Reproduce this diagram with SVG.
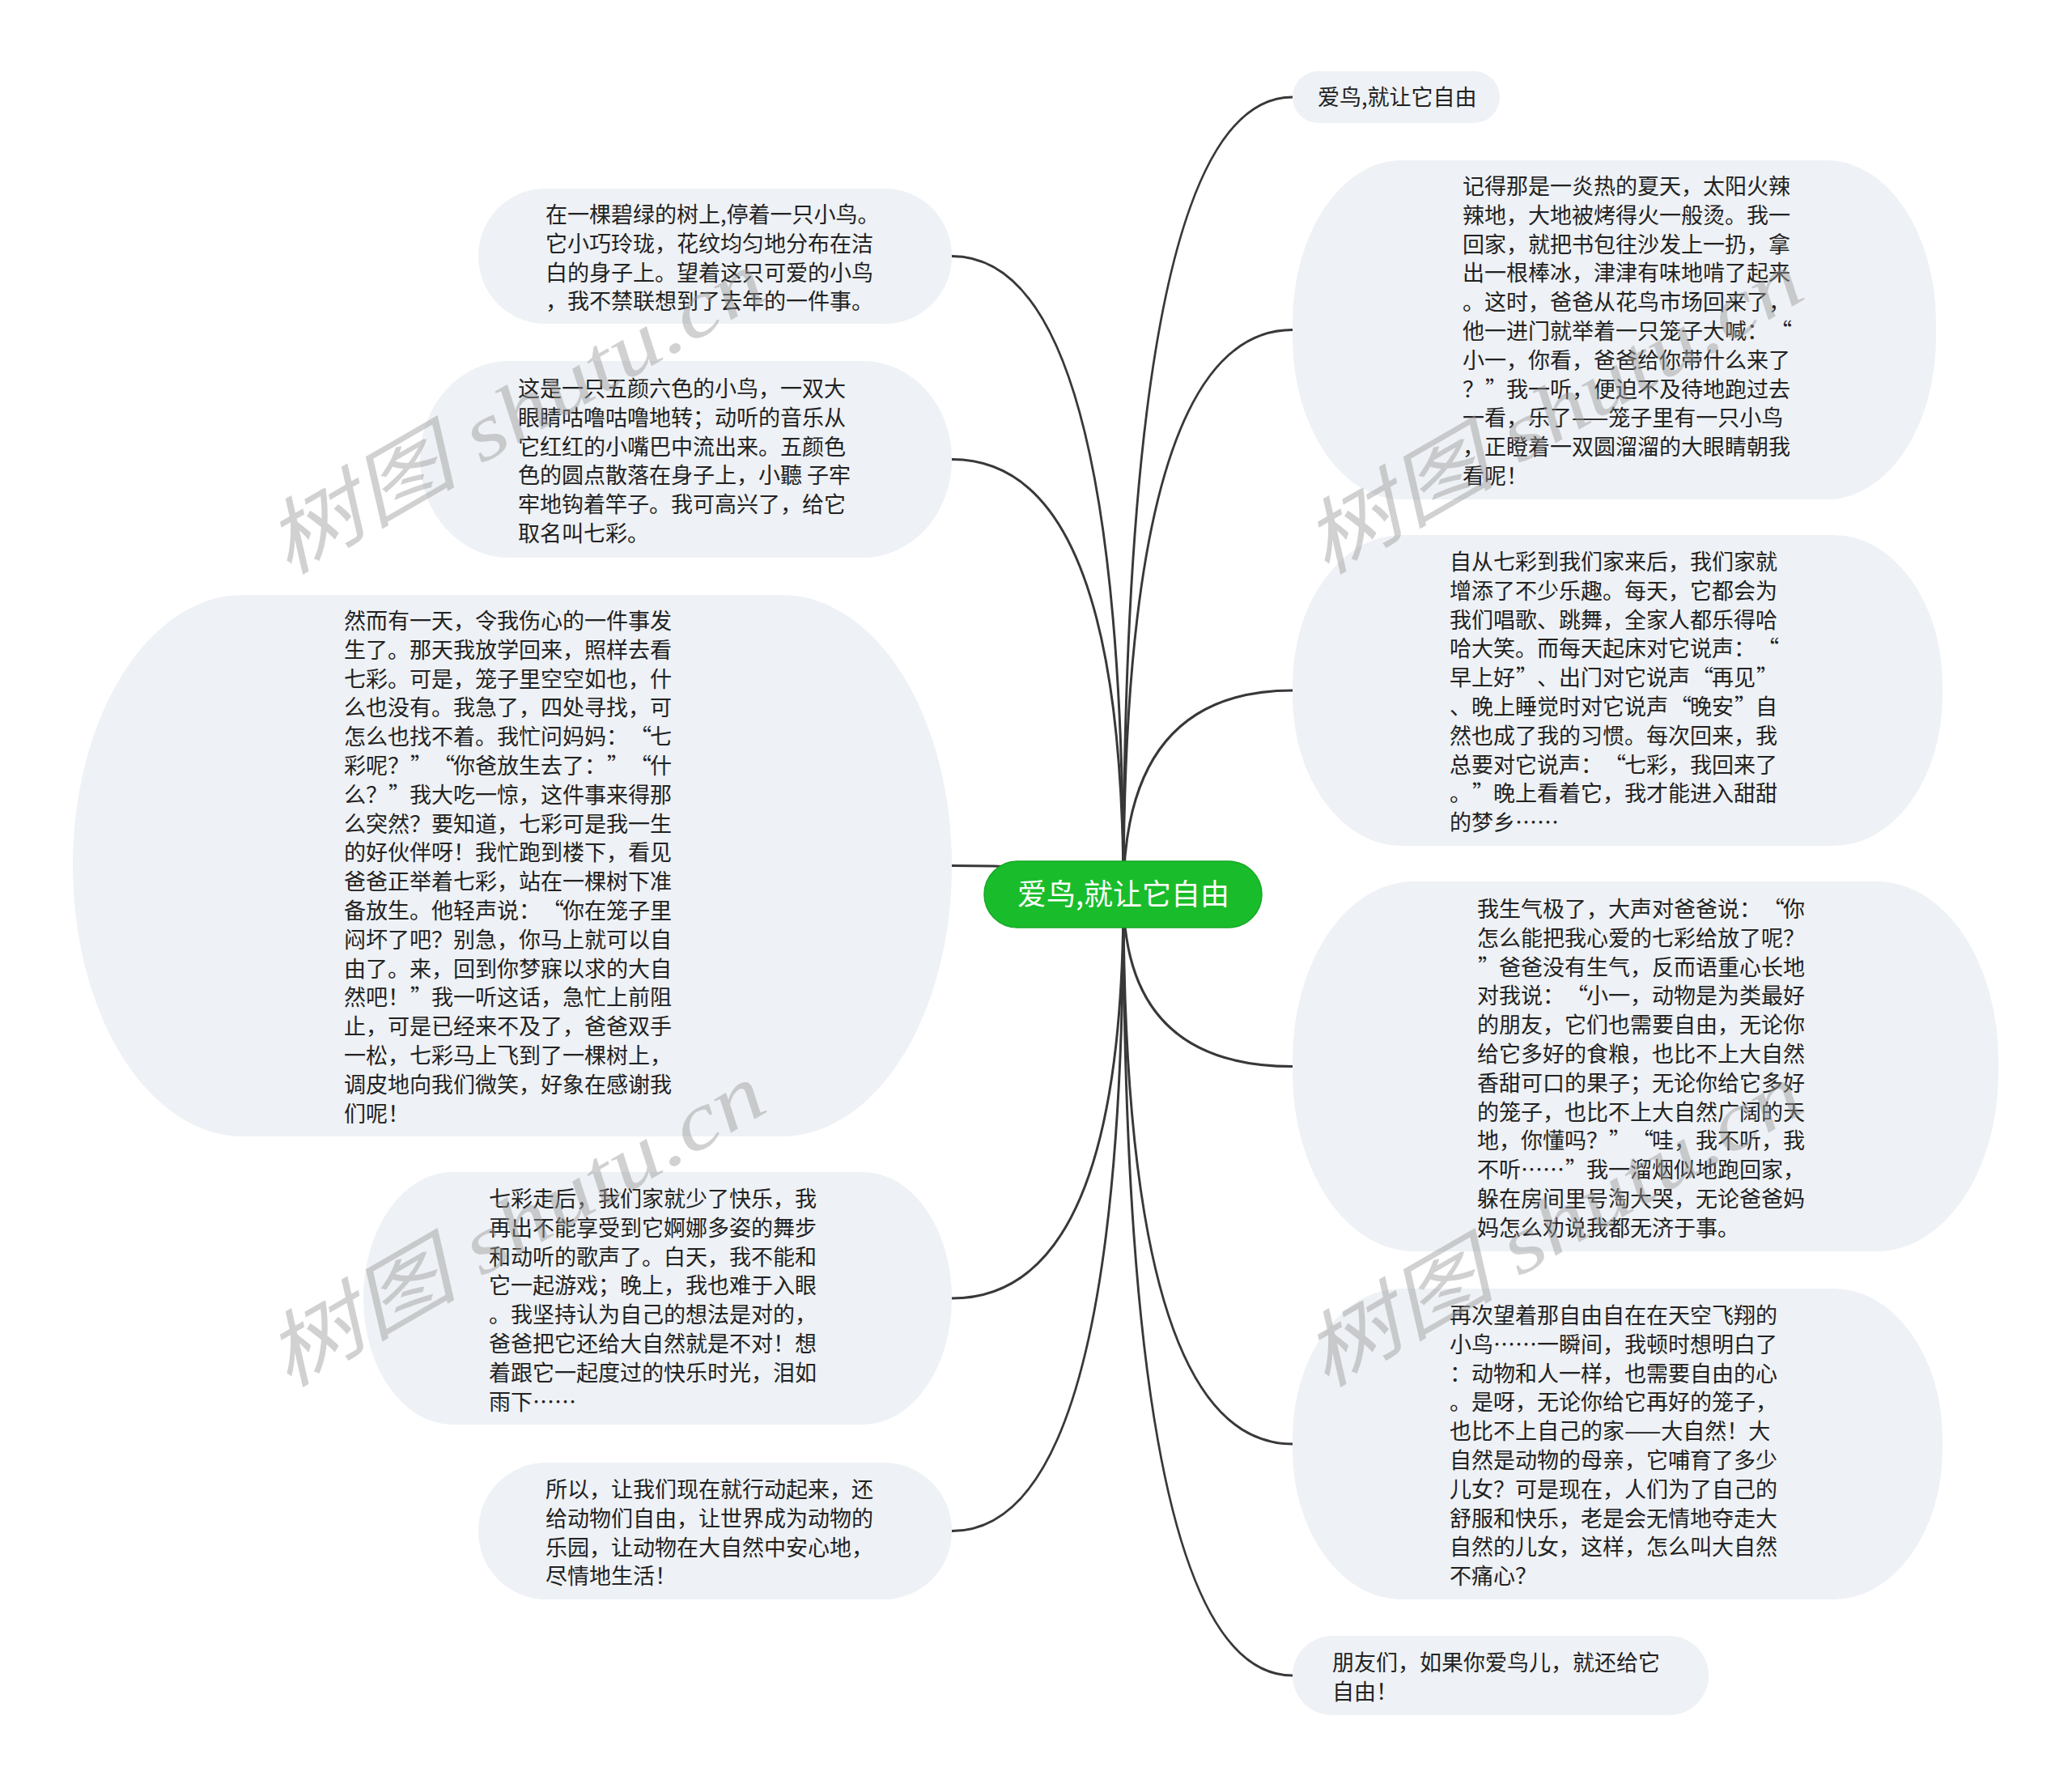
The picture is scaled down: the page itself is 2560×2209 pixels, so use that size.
<svg xmlns="http://www.w3.org/2000/svg" width="2560" height="2209" viewBox="0 0 2560 2209">
<style>
.bg{fill:#ffffff}
.node{fill:#eef1f5}
.t{font-family:"Noto Sans CJK SC","Noto Sans",sans-serif;font-size:27px;fill:#222222}
.ct{font-family:"Noto Sans CJK SC","Noto Sans",sans-serif;font-size:36px;fill:#ffffff}
.edge{fill:none;stroke:#383838;stroke-width:3}
.wm{font-family:"Liberation Serif","Noto Sans CJK SC",serif;font-style:italic;font-size:100px;fill:#9a9a9a;opacity:0.45}
</style>
<rect class="bg" x="0" y="0" width="2560" height="2209"/>
<g id="connectors">
<path class="edge" d="M1388 1105 Q1388 316.5 1176 316.5"/>
<path class="edge" d="M1388 1105 Q1388 567.5 1176 567.5"/>
<path class="edge" d="M1388 1105 Q1388 1069.5 1176 1069.5"/>
<path class="edge" d="M1388 1105 Q1388 1604 1176 1604"/>
<path class="edge" d="M1388 1105 Q1388 1891.5 1176 1891.5"/>
<path class="edge" d="M1388 1105 Q1388 120 1597 120"/>
<path class="edge" d="M1388 1105 Q1388 407.5 1597 407.5"/>
<path class="edge" d="M1388 1105 Q1388 853 1597 853"/>
<path class="edge" d="M1388 1105 Q1388 1317.5 1597 1317.5"/>
<path class="edge" d="M1388 1105 Q1388 1784 1597 1784"/>
<path class="edge" d="M1388 1105 Q1388 2070 1597 2070"/>
</g>
<g id="center">
<rect x="1216" y="1064" width="343" height="82" rx="41" ry="41" fill="#19bd2b" stroke="#14a824" stroke-width="1.5"/>
<text class="ct" x="1388" y="1118" text-anchor="middle">爱鸟,就让它自由</text>
</g>
<g id="L1">
<rect class="node" x="591" y="233" width="585" height="167" rx="83" ry="83"/>
<text class="t" x="674" y="275"><tspan x="674">在一棵碧绿的树上,停着一只小鸟。</tspan><tspan x="674" dy="35.8">它小巧玲珑，花纹均匀地分布在洁</tspan><tspan x="674" dy="35.8">白的身子上。望着这只可爱的小鸟</tspan><tspan x="674" dy="35.8">，我不禁联想到了去年的一件事。</tspan></text>
</g>
<g id="L2">
<rect class="node" x="519" y="446" width="657" height="243" rx="110" ry="121"/>
<text class="t" x="640" y="490"><tspan x="640">这是一只五颜六色的小鸟，一双大</tspan><tspan x="640" dy="35.8">眼睛咕噜咕噜地转；动听的音乐从</tspan><tspan x="640" dy="35.8">它红红的小嘴巴中流出来。五颜色</tspan><tspan x="640" dy="35.8">色的圆点散落在身子上，小聽 子牢</tspan><tspan x="640" dy="35.8">牢地钩着竿子。我可高兴了，给它</tspan><tspan x="640" dy="35.8">取名叫七彩。</tspan></text>
</g>
<g id="L3">
<rect class="node" x="90" y="735" width="1086" height="669" rx="210" ry="334"/>
<text class="t" x="425" y="777"><tspan x="425">然而有一天，令我伤心的一件事发</tspan><tspan x="425" dy="35.8">生了。那天我放学回来，照样去看</tspan><tspan x="425" dy="35.8">七彩。可是，笼子里空空如也，什</tspan><tspan x="425" dy="35.8">么也没有。我急了，四处寻找，可</tspan><tspan x="425" dy="35.8">怎么也找不着。我忙问妈妈：<tspan x="778">“</tspan><tspan x="803">七</tspan></tspan><tspan x="425" dy="35.8">彩呢？<tspan x="507">”</tspan><tspan x="535">“</tspan><tspan x="560">你爸放生去了：</tspan><tspan x="750">”</tspan><tspan x="778">“</tspan><tspan x="803">什</tspan></tspan><tspan x="425" dy="35.8">么？<tspan x="480">”</tspan><tspan x="506">我大吃一惊，这件事来得那</tspan></tspan><tspan x="425" dy="35.8">么突然？要知道，七彩可是我一生</tspan><tspan x="425" dy="35.8">的好伙伴呀！我忙跑到楼下，看见</tspan><tspan x="425" dy="35.8">爸爸正举着七彩，站在一棵树下准</tspan><tspan x="425" dy="35.8">备放生。他轻声说：<tspan x="670">“</tspan><tspan x="695">你在笼子里</tspan></tspan><tspan x="425" dy="35.8">闷坏了吧？别急，你马上就可以自</tspan><tspan x="425" dy="35.8">由了。来，回到你梦寐以求的大自</tspan><tspan x="425" dy="35.8">然吧！<tspan x="507">”</tspan><tspan x="533">我一听这话，急忙上前阻</tspan></tspan><tspan x="425" dy="35.8">止，可是已经来不及了，爸爸双手</tspan><tspan x="425" dy="35.8">一松，七彩马上飞到了一棵树上，</tspan><tspan x="425" dy="35.8">调皮地向我们微笑，好象在感谢我</tspan><tspan x="425" dy="35.8">们呢！</tspan></text>
</g>
<g id="L4">
<rect class="node" x="449" y="1448" width="727" height="312" rx="110" ry="156"/>
<text class="t" x="604" y="1491"><tspan x="604">七彩走后，我们家就少了快乐，我</tspan><tspan x="604" dy="35.8">再出不能享受到它婀娜多姿的舞步</tspan><tspan x="604" dy="35.8">和动听的歌声了。白天，我不能和</tspan><tspan x="604" dy="35.8">它一起游戏；晚上，我也难于入眼</tspan><tspan x="604" dy="35.8">。我坚持认为自己的想法是对的，</tspan><tspan x="604" dy="35.8">爸爸把它还给大自然就是不对！想</tspan><tspan x="604" dy="35.8">着跟它一起度过的快乐时光，泪如</tspan><tspan x="604" dy="35.8">雨下……</tspan></text>
</g>
<g id="L5">
<rect class="node" x="591" y="1807" width="585" height="169" rx="84" ry="84"/>
<text class="t" x="674" y="1850"><tspan x="674">所以，让我们现在就行动起来，还</tspan><tspan x="674" dy="35.8">给动物们自由，让世界成为动物的</tspan><tspan x="674" dy="35.8">乐园，让动物在大自然中安心地，</tspan><tspan x="674" dy="35.8">尽情地生活！</tspan></text>
</g>
<g id="R1">
<rect class="node" x="1597" y="88" width="256" height="64" rx="32" ry="32"/>
<text class="t" x="1628" y="130">爱鸟,就让它自由</text>
</g>
<g id="R2">
<rect class="node" x="1597" y="198" width="795" height="419" rx="135" ry="200"/>
<text class="t" x="1807" y="240"><tspan x="1807">记得那是一炎热的夏天，太阳火辣</tspan><tspan x="1807" dy="35.8">辣地，大地被烤得火一般烫。我一</tspan><tspan x="1807" dy="35.8">回家，就把书包往沙发上一扔，拿</tspan><tspan x="1807" dy="35.8">出一根棒冰，津津有味地啃了起来</tspan><tspan x="1807" dy="35.8">。这时，爸爸从花鸟市场回来了，</tspan><tspan x="1807" dy="35.8">他一进门就举着一只笼子大喊：<tspan x="2187">“</tspan></tspan><tspan x="1807" dy="35.8">小一，你看，爸爸给你带什么来了</tspan><tspan x="1807" dy="35.8">？<tspan x="1835">”</tspan><tspan x="1861">我一听，便迫不及待地跑过去</tspan></tspan><tspan x="1807" dy="35.8">一看，乐了——笼子里有一只小鸟</tspan><tspan x="1807" dy="35.8">，正瞪着一双圆溜溜的大眼睛朝我</tspan><tspan x="1807" dy="35.8">看呢！</tspan></text>
</g>
<g id="R3">
<rect class="node" x="1597" y="661" width="803" height="384" rx="135" ry="185"/>
<text class="t" x="1791" y="704"><tspan x="1791">自从七彩到我们家来后，我们家就</tspan><tspan x="1791" dy="35.8">增添了不少乐趣。每天，它都会为</tspan><tspan x="1791" dy="35.8">我们唱歌、跳舞，全家人都乐得哈</tspan><tspan x="1791" dy="35.8">哈大笑。而每天起床对它说声：<tspan x="2171">“</tspan></tspan><tspan x="1791" dy="35.8">早上好<tspan x="1873">”</tspan><tspan x="1899">、出门对它说声</tspan><tspan x="2090">“</tspan><tspan x="2115">再见</tspan><tspan x="2170">”</tspan></tspan><tspan x="1791" dy="35.8">、晚上睡觉时对它说声<tspan x="2063">“</tspan><tspan x="2088">晚安</tspan><tspan x="2143">”</tspan><tspan x="2169">自</tspan></tspan><tspan x="1791" dy="35.8">然也成了我的习惯。每次回来，我</tspan><tspan x="1791" dy="35.8">总要对它说声：<tspan x="1982">“</tspan><tspan x="2007">七彩，我回来了</tspan></tspan><tspan x="1791" dy="35.8">。<tspan x="1819">”</tspan><tspan x="1845">晚上看着它，我才能进入甜甜</tspan></tspan><tspan x="1791" dy="35.8">的梦乡……</tspan></text>
</g>
<g id="R4">
<rect class="node" x="1597" y="1089" width="872" height="457" rx="150" ry="220"/>
<text class="t" x="1825" y="1133"><tspan x="1825">我生气极了，大声对爸爸说：<tspan x="2178">“</tspan><tspan x="2203">你</tspan></tspan><tspan x="1825" dy="35.8">怎么能把我心爱的七彩给放了呢？</tspan><tspan x="1826" dy="35.8">”<tspan x="1852">爸爸没有生气，反而语重心长地</tspan></tspan><tspan x="1825" dy="35.8">对我说：<tspan x="1935">“</tspan><tspan x="1960">小一，动物是为类最好</tspan></tspan><tspan x="1825" dy="35.8">的朋友，它们也需要自由，无论你</tspan><tspan x="1825" dy="35.8">给它多好的食粮，也比不上大自然</tspan><tspan x="1825" dy="35.8">香甜可口的果子；无论你给它多好</tspan><tspan x="1825" dy="35.8">的笼子，也比不上大自然广阔的天</tspan><tspan x="1825" dy="35.8">地，你懂吗？<tspan x="1988">”</tspan><tspan x="2016">“</tspan><tspan x="2041">哇，我不听，我</tspan></tspan><tspan x="1825" dy="35.8">不听……<tspan x="1934">”</tspan><tspan x="1960">我一溜烟似地跑回家，</tspan></tspan><tspan x="1825" dy="35.8">躲在房间里号淘大哭，无论爸爸妈</tspan><tspan x="1825" dy="35.8">妈怎么劝说我都无济于事。</tspan></text>
</g>
<g id="R5">
<rect class="node" x="1597" y="1592" width="803" height="384" rx="135" ry="185"/>
<text class="t" x="1791" y="1635"><tspan x="1791">再次望着那自由自在在天空飞翔的</tspan><tspan x="1791" dy="35.8">小鸟……一瞬间，我顿时想明白了</tspan><tspan x="1791" dy="35.8">：动物和人一样，也需要自由的心</tspan><tspan x="1791" dy="35.8">。是呀，无论你给它再好的笼子，</tspan><tspan x="1791" dy="35.8">也比不上自己的家——大自然！大</tspan><tspan x="1791" dy="35.8">自然是动物的母亲，它哺育了多少</tspan><tspan x="1791" dy="35.8">儿女？可是现在，人们为了自己的</tspan><tspan x="1791" dy="35.8">舒服和快乐，老是会无情地夺走大</tspan><tspan x="1791" dy="35.8">自然的儿女，这样，怎么叫大自然</tspan><tspan x="1791" dy="35.8">不痛心？</tspan></text>
</g>
<g id="R6">
<rect class="node" x="1597" y="2021" width="514" height="98" rx="49" ry="49"/>
<text class="t" x="1646" y="2064"><tspan x="1646">朋友们，如果你爱鸟儿，就还给它</tspan><tspan x="1646" dy="35.8">自由！</tspan></text>
</g>
<g id="watermarks">
<text class="wm" transform="translate(355 712) rotate(-30)" textLength="690" lengthAdjust="spacingAndGlyphs">树图 shutu.cn</text>
<text class="wm" transform="translate(1637 712) rotate(-30)" textLength="690" lengthAdjust="spacingAndGlyphs">树图 shutu.cn</text>
<text class="wm" transform="translate(355 1716) rotate(-30)" textLength="690" lengthAdjust="spacingAndGlyphs">树图 shutu.cn</text>
<text class="wm" transform="translate(1637 1716) rotate(-30)" textLength="690" lengthAdjust="spacingAndGlyphs">树图 shutu.cn</text>
</g>
</svg>
